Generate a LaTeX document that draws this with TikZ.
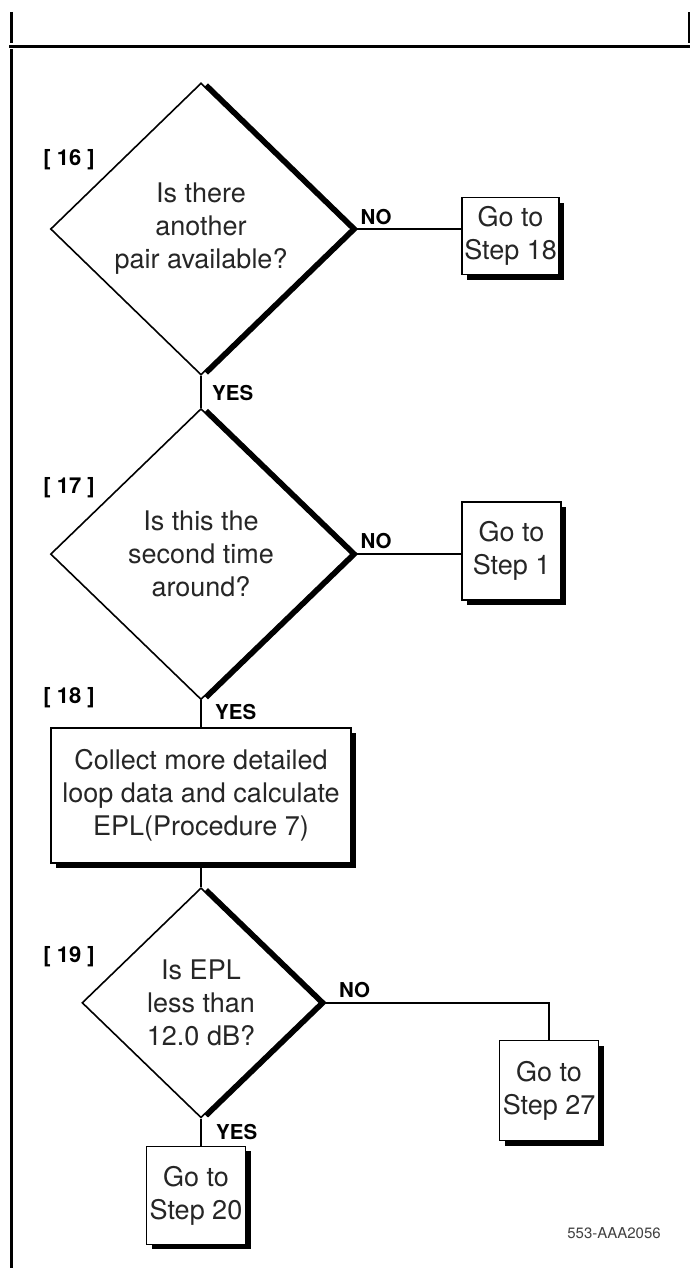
\documentclass[tikz,border=0pt]{standalone}
\usepackage{fontspec}
\setmainfont{TeX Gyre Heros}
\usetikzlibrary{shapes.geometric, shadows, positioning}

\begin{document}
\begin{tikzpicture}[
    x=1pt, y=-1pt,
    % Styles
    question/.style 2 args={diamond, draw, line width=1.6pt, fill=white, inner sep=0pt, minimum width=#1, minimum height=#2, align=center, text=black!85, font=\fontsize{27}{33}\selectfont, drop shadow={shadow xshift=7pt, shadow yshift=0pt, fill=black, opacity=1}},
    stepbox/.style 2 args={rectangle, draw, line width=1.6pt, fill=white, inner sep=0pt, minimum width=#1, minimum height=#2, align=center, text=black!85, font=\fontsize{27}{33}\selectfont, drop shadow={shadow xshift=5pt, shadow yshift=-5pt, fill=black, opacity=1}},
    answer/.style={inner sep=0pt, font=\fontsize{20.5}{22}\bfseries\selectfont},
    num/.style={inner sep=0pt, font=\fontsize{22}{24}\bfseries\selectfont},
    link/.style={line width=1.6pt},
    frame/.style={line width=3pt},
]
\useasboundingbox (0,0) rectangle (690,1268);

% ── Page frame ──
\draw[frame] (11,12) -- (11,43);
\draw[frame] (689,12) -- (689,43);
\draw[frame] (9,47) -- (690,47);
\draw[frame] (11,49) -- (11,1268);

% ── Step 16 ──
\node[question={301pt}{292pt}] (d16) at (201,229) {Is there\\another\\pair available?};
\node[stepbox={97pt}{77pt}, right=109pt of d16.east, anchor=west, yshift=-7pt] (g18) {Go to\\Step 18};
\node[num] (n16) at (69,160) {[ 16 ]};

% ── Step 17 ──
\node[question={301pt}{291pt}, below=32pt of d16] (d17) {Is this the\\second time\\around?};
\node[stepbox={99pt}{98pt}, right=109pt of d17.east, anchor=west, yshift=3pt] (g1) {Go to\\Step 1};
\node[num] (n17) at (69,488) {[ 17 ]};

% ── Step 18 ──
\node[stepbox={300pt}{135pt}, below=27pt of d17] (s18) {Collect more detailed\\loop data and calculate\\EPL(Procedure 7)};
\node[num] (n18) at (69,698) {[ 18 ]};

% ── Step 19 ──
\node[question={238pt}{230pt}, below=23pt of s18] (d19) {Is EPL\\less than\\12.0 dB?};
\node[stepbox={99pt}{100pt}, below right=37pt and 178pt of d19.east] (g27) {Go to\\Step 27};
\node[stepbox={99pt}{98pt}, below=27pt of d19.south, xshift=-5pt] (g20) {Go to\\Step 20};
\node[num] (n19) at (69,957) {[ 19 ]};

% ── Connectors ──
\draw[link] (d16) -- (d16 -| g18.west);
\draw[link] (d16.south) -- (d17.north);
\draw[link] (d17) -- (d17 -| g1.west);
\draw[link] (d17.south) -- (s18.north -| d17.south);
\draw[link] (s18.south) -- (d19.north);
\draw[link] (d19.east) -| (g27.north);
\draw[link] (d19.south) -- (d19.south |- g20.north);

% ── Answers ──
\node[answer, above right=4pt and 8pt of d16.east] (no16) {NO};
\node[answer, below right=9pt and 11pt of d16.south] (yes16) {YES};
\node[answer, above right=5pt and 8pt of d17.east] (no17) {NO};
\node[answer, below right=4pt and 14pt of d17.south] (yes17) {YES};
\node[answer, above right=5pt and 18pt of d19.east] (no19) {NO};
\node[answer, below right=5pt and 15pt of d19.south] (yes19) {YES};

\node[inner sep=0pt, text=black!75, font=\fontsize{15}{18}\selectfont] (fig) at (614,1233) {553-AAA2056};

\end{tikzpicture}
\end{document}
